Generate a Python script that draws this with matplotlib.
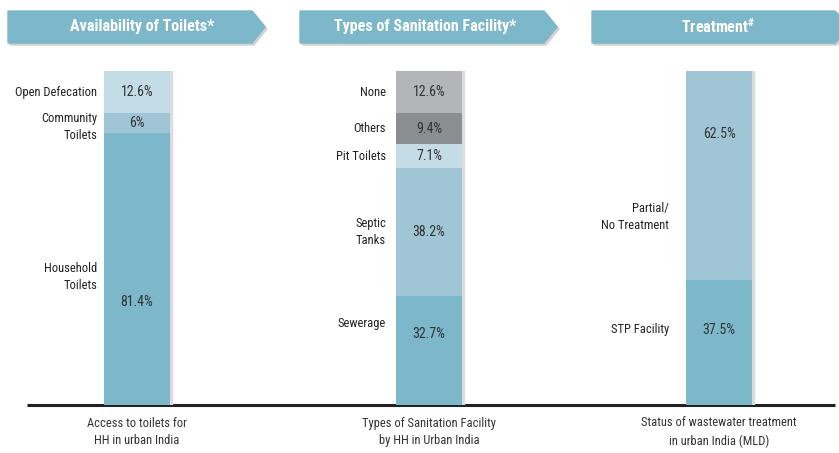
import matplotlib.pyplot as plt
from matplotlib.patches import Polygon, Rectangle
from matplotlib import font_manager

# fonts: prefer a condensed sans if it is installed
names = {f.name for f in font_manager.fontManager.ttflist}
FAMILY = [n for n in ['Roboto Condensed', 'Archivo Narrow'] if n in names] + ['DejaVu Sans']
plt.rcParams['font.family'] = FAMILY
plt.rcParams['mathtext.fontset'] = 'custom'
plt.rcParams['mathtext.rm'] = FAMILY[0]
plt.rcParams['mathtext.bf'] = FAMILY[0] + ':bold'

headers = ['Availability of Toilets*', 'Types of Sanitation Facility*', 'Treatment$^{\\mathbf{\\#}}$']
footers = ['Access to toilets for\nHH in urban India',
           'Types of Sanitation Facility\nby HH in Urban India',
           'Status of wastewater treatment\nin urban India (MLD)']

# segments listed bottom to top
toilet_labels = ['Household\nToilets', 'Community\nToilets', 'Open Defecation']
toilet_values = [81.4, 6.0, 12.6]

sanit_labels = ['Sewerage', 'Septic\nTanks', 'Pit Toilets', 'Others', 'None']
sanit_values = [32.7, 38.2, 7.1, 9.4, 12.6]

treat_labels = ['STP Facility', 'Partial/\nNo Treatment']
treat_values = [37.5, 62.5]

C_DARK = '#7db7ca'
C_MID = '#a0c5d4'
C_LIGHT = '#c3dce6'
C_GREY = '#b3b5b8'
C_GREY2 = '#8b8e91'

bars = [
    (toilet_labels, toilet_values, [C_DARK, C_MID, C_LIGHT], ['81.4%', '6%', '12.6%']),
    (sanit_labels, sanit_values, [C_DARK, C_MID, C_LIGHT, C_GREY2, C_GREY],
     ['32.7%', '38.2%', '7.1%', '9.4%', '12.6%']),
    (treat_labels, treat_values, [C_DARK, C_MID], ['37.5%', '62.5%']),
]
# where the text sits inside each segment (0 = bottom, 1 = top of segment)
value_pos = [[0.38, 0.5, 0.5], [0.65, 0.5, 0.5, 0.5, 0.5], [0.6, 0.7]]
label_pos = [[0.47, 0.3, 0.5], [0.75, 0.5, 0.5, 0.5, 0.5], [0.6, 0.3]]

W, H = 839, 453
fig = plt.figure(figsize=(W / 100, H / 100), dpi=100)

# overlay in pixel units for banners, baseline and footers
over = fig.add_axes([0, 0, 1, 1])
over.set_xlim(0, W)
over.set_ylim(H, 0)
over.axis('off')

ax = fig.add_axes([0, 1 - 405 / H, 1, (405 - 71) / H])
ax.set_xlim(0, W)
ax.set_ylim(0, 100)
ax.axis('off')

centers = [137, 429, 719]
bw = 66
label_right = [97, 386, 669]

for i, (labels, values, colors, texts) in enumerate(bars):
    cx = centers[i]
    ax.add_patch(Rectangle((cx - bw / 2 + 2, 0), bw, sum(values),
                           color='#dcdcdc', zorder=1))
    bottom = 0
    for j, v in enumerate(values):
        ax.bar(cx, v, bw, bottom=bottom, color=colors[j], zorder=2)
        ax.text(cx, bottom + v * value_pos[i][j], texts[j], ha='center',
                va='center', fontsize=10, color='#333333', zorder=3)
        ax.text(label_right[i], bottom + v * label_pos[i][j], labels[j],
                ha='right', va='center', fontsize=9, color='#222222',
                linespacing=1.45)
        bottom += v

# header banners
banners = [(8, 252, 265), (300, 544, 557), (592, 835, 850)]
for (x0, x1, tip), title, cx in zip(banners, headers, [142, 425, 718]):
    pts = [(x0, 11), (x1, 11), (tip, 27), (x1, 43), (x0, 43)]
    shadow = [(x + 2, y + 2) for x, y in pts]
    over.add_patch(Polygon(shadow, closed=True, color='#d2d2d2', zorder=1))
    over.add_patch(Polygon(pts, closed=True, color=C_DARK, zorder=2))
    over.text(cx, 27, title, ha='center', va='center', color='white',
              fontsize=11.5, fontweight='bold', zorder=3)

over.plot([27, 835], [405, 405], color='#222222', lw=2.2, solid_capstyle='butt')

for cx, txt in zip(centers, footers):
    over.text(cx, 432, txt, ha='center', va='center', fontsize=9,
              color='#333333', linespacing=1.45)

fig.savefig('out.png', dpi=100)
